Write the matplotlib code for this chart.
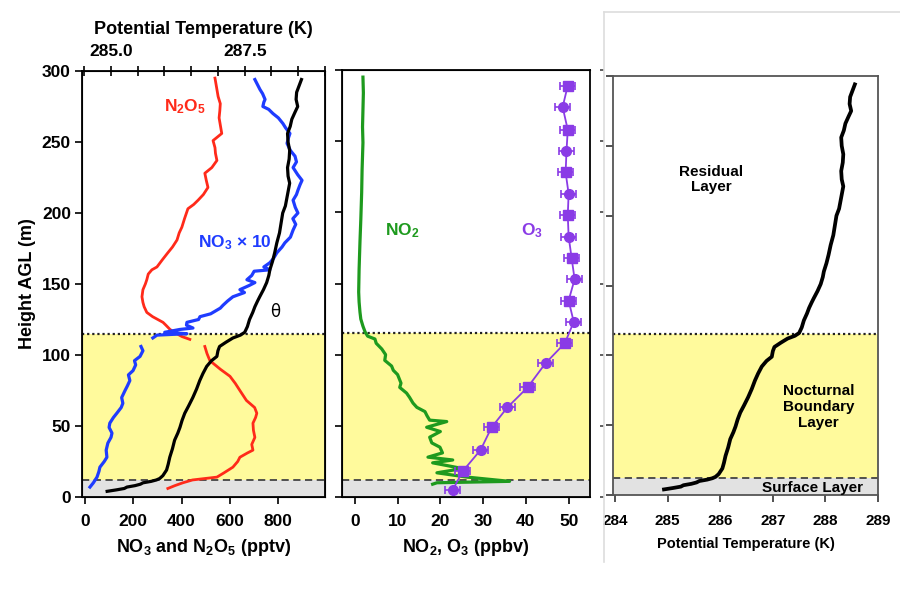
import numpy as np
import matplotlib
matplotlib.use("Agg")
import matplotlib.pyplot as plt
from matplotlib.ticker import MultipleLocator
from matplotlib.lines import Line2D

plt.rcParams['font.family'] = ['Liberation Sans', 'DejaVu Sans']
plt.rcParams['font.weight'] = 'bold'
plt.rcParams['axes.labelweight'] = 'bold'
plt.rcParams['mathtext.fontset'] = 'custom'
plt.rcParams['mathtext.rm'] = 'Liberation Sans:bold'
plt.rcParams['mathtext.bf'] = 'Liberation Sans:bold'
plt.rcParams['mathtext.it'] = 'Liberation Sans:bold'
plt.rcParams['mathtext.default'] = 'rm'

# ---- data (height in m AGL) ----
# N2O5 (pptv), gap between lower and upper pieces
n2o5_z = [6, 8, 10, 12, 14, 17, 21, 25, 28, 31, 33, 37, 42, 47, 52, 56, 59, 63, 68, 75, 80, 85, 90, 96, 101, 106,
          np.nan,
          111, 113, 116, 118, 121, 123, 127, 130, 134, 137, 141, 146, 150, 153, 157, 160, 162, 167, 172, 176, 181,
          186, 190, 196, 203, 206, 209, 213, 218, 223, 228, 232, 237, 242, 246, 251, 256, 262, 267, 272, 277,
          282, 288, 295]
n2o5 = [343, 372, 405, 445, 546, 575, 612, 632, 641, 672, 695, 690, 703, 697, 695, 706, 711, 702, 668, 641, 622,
        600, 560, 517, 505, 496,
        np.nan,
        434, 401, 370, 352, 335, 323, 280, 256, 245, 240, 236, 240, 250, 256, 262, 277, 298, 320, 343, 362, 381,
        390, 401, 412, 426, 450, 468, 490, 509, 502, 496, 525, 546, 540, 538, 530, 566, 560, 555, 558, 560,
        551, 545, 538]

# NO3 x 10 (pptv)
no3_z = [7, 10, 14, 18, 21, 25, 28, 33, 38, 42, 45, 49, 52, 56, 59, 63, 66, 70, 75, 78, 82, 86, 89, 93, 96, 99,
         103, 106,
         np.nan,
         112, 114, 115, 116, 118, 119, 121, 123, 125, 127, 129, 130, 133, 135, 138, 141, 144, 146, 149, 151, 153,
         156, 159, 160, 162, 165, 168, 172, 176, 179, 183, 188, 192, 196, 200, 204, 209, 213, 216, 220, 223, 227,
         232, 236, 240, 244, 249, 253, 256, 260, 263, 267, 270, 273, 275, 278, 280, 284, 287, 291, 294]
no3 = [21, 35, 50, 58, 62, 80, 91, 88, 95, 108, 112, 100, 103, 118, 132, 150, 157, 152, 166, 175, 186, 180, 199,
       210, 205, 228, 240, 232,
       np.nan,
       281, 298, 422, 330, 393, 447, 420, 422, 470, 476, 520, 530, 560, 571, 590, 612, 660, 641, 680, 703, 670,
       690, 700, 765, 740, 765, 780, 794, 815, 827, 850, 861, 872, 860, 881, 870, 861, 875, 881, 890, 898, 880,
       861, 875, 869, 850, 836, 842, 848, 830, 819, 800, 778, 760, 736, 740, 745, 735, 724, 712, 703]

# potential temperature (K)
theta_z = [4, 5, 6, 7, 8, 9, 10, 11, 12, 13, 15, 19, 23, 28, 34, 40, 45, 49, 54, 59, 64, 70, 76, 82, 87, 92, 96,
           99, 103, 106, 109, 112, 114, 116, 120, 125, 130, 134, 138, 141, 146, 151, 156, 160, 166, 172, 179, 186,
           193, 200, 205, 209, 215, 221, 226, 232, 238, 244, 250, 256, 261, 266, 271, 275, 280, 285, 290, 294]
theta = [284.93, 285.10, 285.25, 285.30, 285.45, 285.55, 285.60, 285.75, 285.85, 285.91, 285.97, 286.04, 286.07,
         286.10, 286.15, 286.19, 286.25, 286.29, 286.33, 286.38, 286.45, 286.53, 286.60, 286.66, 286.72, 286.79,
         286.88, 286.98, 287.00, 287.03, 287.15, 287.28, 287.42, 287.50, 287.55, 287.59, 287.65, 287.69, 287.74,
         287.78, 287.85, 287.91, 287.95, 287.97, 288.02, 288.06, 288.10, 288.15, 288.18, 288.21, 288.26, 288.28,
         288.31, 288.34, 288.31, 288.30, 288.33, 288.34, 288.31, 288.30, 288.35, 288.38, 288.44, 288.49, 288.46,
         288.47, 288.52, 288.56]

# NO2 (ppbv)
no2_z = [9, 10, 11, 14, 17, 20, 24, 26, 28, 31, 35, 38, 42, 46, 49, 53, 54, 57, 60, 63, 66, 70, 73, 77, 80, 86,
         89, 92, 96, 100, 104, 108, 111, 113, 116, 120, 125, 130, 137, 144, 160, 179, 195, 214, 230, 249, 260, 272,
         284, 295]
no2 = [18.2, 19.2, 36.2, 26.2, 19.2, 25.2, 18.2, 22.9, 17.1, 20.5, 19.9, 18.0, 17.5, 20.0, 16.8, 21.5, 17.5, 16.9,
       16.4, 14.5, 13.6, 12.8, 12.1, 10.5, 10.8, 10.0, 9.0, 8.6, 7.0, 7.2, 6.3, 5.0, 4.7, 3.0, 2.4, 1.9, 1.4, 1.2,
       1.0, 0.9, 1.0, 1.2, 1.4, 1.6, 1.7, 1.9, 1.8, 1.9, 2.0, 1.9]

# O3 (ppbv) with error bars
o3_z = [5, 18, 33, 49, 63, 77, 94, 108, 123, 138, 153, 168, 183, 198, 213, 228, 243, 258, 274, 289]
o3 = [22.9, 25.2, 29.4, 32.0, 35.7, 40.4, 44.6, 49.1, 51.2, 50.0, 51.4, 50.7, 50.0, 49.8, 50.0, 49.3, 49.5, 49.8,
      48.6, 49.8]
o3_err = [1.8] * len(o3)

# layer boundaries (m)
surface_top = 12
nbl_top = 115

YELLOW = '#FFFA9C'
GRAY = '#E2E2E2'
RED = '#FF2A1A'
BLUE = '#1F3CFF'
GREEN = '#1E9A1E'
PURPLE = '#8A3BE6'

TICK_FS = 12.5
LABEL_FS = 13

fig = plt.figure(figsize=(9, 5.9), dpi=100)


def layers(ax):
    ax.axhspan(0, surface_top, color=GRAY, lw=0, zorder=0)
    ax.axhspan(surface_top, nbl_top, color=YELLOW, lw=0, zorder=0)
    ax.axhline(nbl_top, color='#222222', lw=1.6, ls=(0, (1, 1.3)), zorder=1)
    ax.axhline(surface_top, color='#444444', lw=1.3, ls=(0, (4, 2.5)), zorder=1)
    ax.set_ylim(0, 300)
    ax.yaxis.set_major_locator(MultipleLocator(50))


# ---- panel 1: NO3, N2O5 and theta ----
ax1 = fig.add_axes([82 / 900, 93 / 590, 243 / 900, 426 / 590])
layers(ax1)
ax1.plot(n2o5, n2o5_z, color=RED, lw=2)
ax1.plot(no3, no3_z, color=BLUE, lw=2.3)
ax1.set_xlim(-12, 993)
ax1.set_xticks([0, 200, 400, 600, 800])
ax1.set_xlabel(r'NO$_3$ and N$_2$O$_5$ (pptv)', fontsize=LABEL_FS, labelpad=6)
ax1.set_ylabel('Height AGL (m)', fontsize=LABEL_FS, labelpad=4)
ax1.tick_params(labelsize=TICK_FS, width=1.2, length=5, direction='out', pad=3)
ax1.tick_params(axis='x', pad=7)
for s in ax1.spines.values():
    s.set_linewidth(1.3)

ax1t = ax1.twiny()
ax1t.plot(theta, theta_z, color='black', lw=2.3)
ax1t.set_xlim(284.46, 289.0)
ax1t.set_xticks([285.0, 287.5])
ax1t.set_xticklabels(['285.0', '287.5'])
ax1t.xaxis.set_minor_locator(MultipleLocator(0.5))
ax1t.tick_params(axis='x', which='both', labelsize=TICK_FS, direction='inout', length=7, width=1.2, pad=5)
ax1t.set_xlabel('Potential Temperature (K)', fontsize=LABEL_FS, labelpad=7)
ax1t.set_ylim(0, 300)

ax1.text(414, 275, r'N$_2$O$_5$', color=RED, fontsize=12.5, ha='center', va='center')
ax1.text(620, 179, r'NO$_3$ $\times$ 10', color=BLUE, fontsize=12.5, ha='center', va='center')
ax1.text(786, 130, 'θ', color='black', fontsize=12, ha='center', va='center',
         family=['DejaVu Sans'], fontweight='normal')

# ---- panel 2: NO2, O3 ----
ax2 = fig.add_axes([342 / 900, 93 / 590, 248 / 900, 427 / 590])
layers(ax2)
ax2.plot(no2, no2_z, color=GREEN, lw=2.3)
ax2.errorbar(o3, o3_z, xerr=o3_err, color=PURPLE, lw=1.3, capsize=3, capthick=1.2, elinewidth=1.2)
ax2.plot(o3[::2], o3_z[::2], 'o', color=PURPLE, ms=7)
ax2.plot(o3[1::2], o3_z[1::2], 's', color=PURPLE, ms=6.5)
ax2.set_xlim(-3, 55)
ax2.set_xticks([0, 10, 20, 30, 40, 50])
ax2.set_yticklabels([])
ax2.tick_params(labelsize=TICK_FS, width=1.2, length=5, direction='out', pad=3)
ax2.tick_params(axis='x', pad=7)
ax2.set_xlabel(r'NO$_2$, O$_3$ (ppbv)', fontsize=LABEL_FS, labelpad=6)
for s in ax2.spines.values():
    s.set_linewidth(1.3)
ax2.text(11.2, 187, r'NO$_2$', color=GREEN, fontsize=12.5, ha='center', va='center')
ax2.text(41.4, 187, r'O$_3$', color=PURPLE, fontsize=12.5, ha='center', va='center')

# stray right-hand ticks of the middle panel, set off from its frame
ax2r = ax2.twinx()
ax2r.set_ylim(0, 300)
ax2r.yaxis.set_major_locator(MultipleLocator(50))
ax2r.spines['right'].set_position(('outward', 7))
ax2r.spines['right'].set_visible(False)
ax2r.tick_params(axis='y', direction='out', length=3, width=1.2, labelright=False, colors='#444444')

# ---- panel 3: theta with layer names ----
fig.add_artist(Line2D([604 / 900, 604 / 900], [28 / 590, 578 / 590], color='#DDDDDD', lw=1.2))
fig.add_artist(Line2D([604 / 900, 1.0], [578 / 590, 578 / 590], color='#DDDDDD', lw=1.2))

ax3 = fig.add_axes([613 / 900, 95 / 590, 265 / 900, 419 / 590])
layers(ax3)
ax3.plot(theta, theta_z, color='black', lw=2.7)
ax3.set_xlim(283.96, 289.0)
ax3.set_xticks([284, 285, 286, 287, 288, 289])
ax3.set_yticklabels([])
ax3.tick_params(labelsize=11, width=1.2, length=5, direction='out', colors='#333333', pad=3)
ax3.tick_params(axis='x', labelcolor='black', pad=9)
ax3.set_xlabel('Potential Temperature (K)', fontsize=10.5, labelpad=6)
for s in ax3.spines.values():
    s.set_linewidth(1.3)
    s.set_color('#555555')
ax3.text(285.83, 226, 'Residual\nLayer', fontsize=11, ha='center', va='center', linespacing=1.15)
ax3.text(287.87, 63, 'Nocturnal\nBoundary\nLayer', fontsize=11, ha='center', va='center', linespacing=1.2)
ax3.text(287.75, 5, 'Surface Layer', fontsize=11, ha='center', va='center')

fig.savefig('out.png', dpi=100)
